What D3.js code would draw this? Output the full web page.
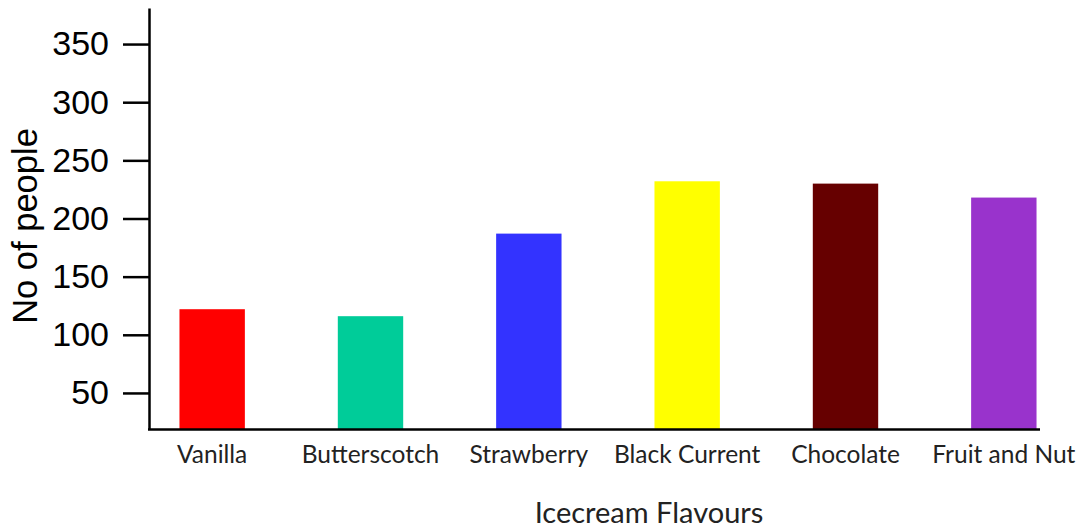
<!DOCTYPE html>
<html>
<head>
<meta charset="utf-8">
<script src="https://cdn.jsdelivr.net/npm/d3@7"></script>
<style>
  html, body { margin: 0; padding: 0; background: #fff; }
  svg { display: block; }
  .y-axis text { font-family: "Liberation Sans", Arial, sans-serif; font-size: 34px; fill: #000; }
  .x-axis text { font-family: Lato, "Open Sans", sans-serif; font-size: 24.5px; fill: #222; }
</style>
</head>
<body>
<div id="chart"></div>
<script>
'use strict';

// ── Data ─────────────────────────────────────────────
const flavours = ['Vanilla', 'Butterscotch', 'Strawberry', 'Black Current', 'Chocolate', 'Fruit and Nut'];
const people   = [122, 116, 187, 232, 230, 218];
const colours  = ['#ff0000', '#00cc99', '#3333ff', '#ffff00', '#660000', '#9933cc'];
const yTicks   = [50, 100, 150, 200, 250, 300, 350];
const yDomain  = [19, 381];

const W = 1077, H = 528;
const margin = { top: 8, right: 5, bottom: 99, left: 149 };

const svg = d3.select('#chart').append('svg')
    .attr('width', W)
    .attr('height', H);

// ── Scales ───────────────────────────────────────────
const x = d3.scaleBand()
    .domain(flavours)
    .range([133, 1083])
    .paddingInner(0.587)
    .paddingOuter(0.2935);

const y = d3.scaleLinear()
    .domain(yDomain)
    .range([H - margin.bottom, margin.top]);

const rows = flavours.map((f, i) => ({ name: f, value: people[i], colour: colours[i] }));

// ── Bars ─────────────────────────────────────────────
svg.selectAll('rect.bar')
    .data(rows)
    .join('rect')
    .attr('class', 'bar')
    .attr('x', d => x(d.name))
    .attr('y', d => y(d.value))
    .attr('width', x.bandwidth())
    .attr('height', d => y(yDomain[0]) - y(d.value))
    .attr('fill', d => d.colour);

// ── Y axis ───────────────────────────────────────────
const yAxis = svg.append('g')
    .attr('class', 'y-axis')
    .attr('transform', `translate(${margin.left},0)`)
    .call(d3.axisLeft(y).tickValues(yTicks).tickSize(26).tickPadding(14).tickSizeOuter(0));

yAxis.select('.domain').attr('stroke', '#000').attr('stroke-width', 2.5);
yAxis.selectAll('.tick line').attr('stroke', '#000').attr('stroke-width', 2.5);

// ── X axis (line only, labels below bars) ────────────
const xAxis = svg.append('g')
    .attr('class', 'x-axis')
    .attr('transform', `translate(0,${H - margin.bottom})`)
    .call(d3.axisBottom(x).tickSize(0).tickPadding(17));

xAxis.select('.domain').remove();
xAxis.selectAll('.tick text').attr('dy', '0.71em');

svg.append('line')
    .attr('x1', margin.left - 1)
    .attr('x2', 1040)
    .attr('y1', H - margin.bottom + 0.5)
    .attr('y2', H - margin.bottom + 0.5)
    .attr('stroke', '#000')
    .attr('stroke-width', 2.5);

// ── Axis titles ──────────────────────────────────────
svg.append('text')
    .attr('transform', 'translate(37,226) rotate(-90)')
    .attr('text-anchor', 'middle')
    .attr('font-family', '"Liberation Sans", Arial, sans-serif')
    .attr('font-size', 34.5)
    .attr('fill', '#000')
    .text('No of people');

svg.append('text')
    .attr('x', 649)
    .attr('y', 523)
    .attr('text-anchor', 'middle')
    .attr('font-family', 'Lato, "Open Sans", sans-serif')
    .attr('font-size', 29)
    .attr('fill', '#222')
    .text('Icecream Flavours');
</script>
</body>
</html>
